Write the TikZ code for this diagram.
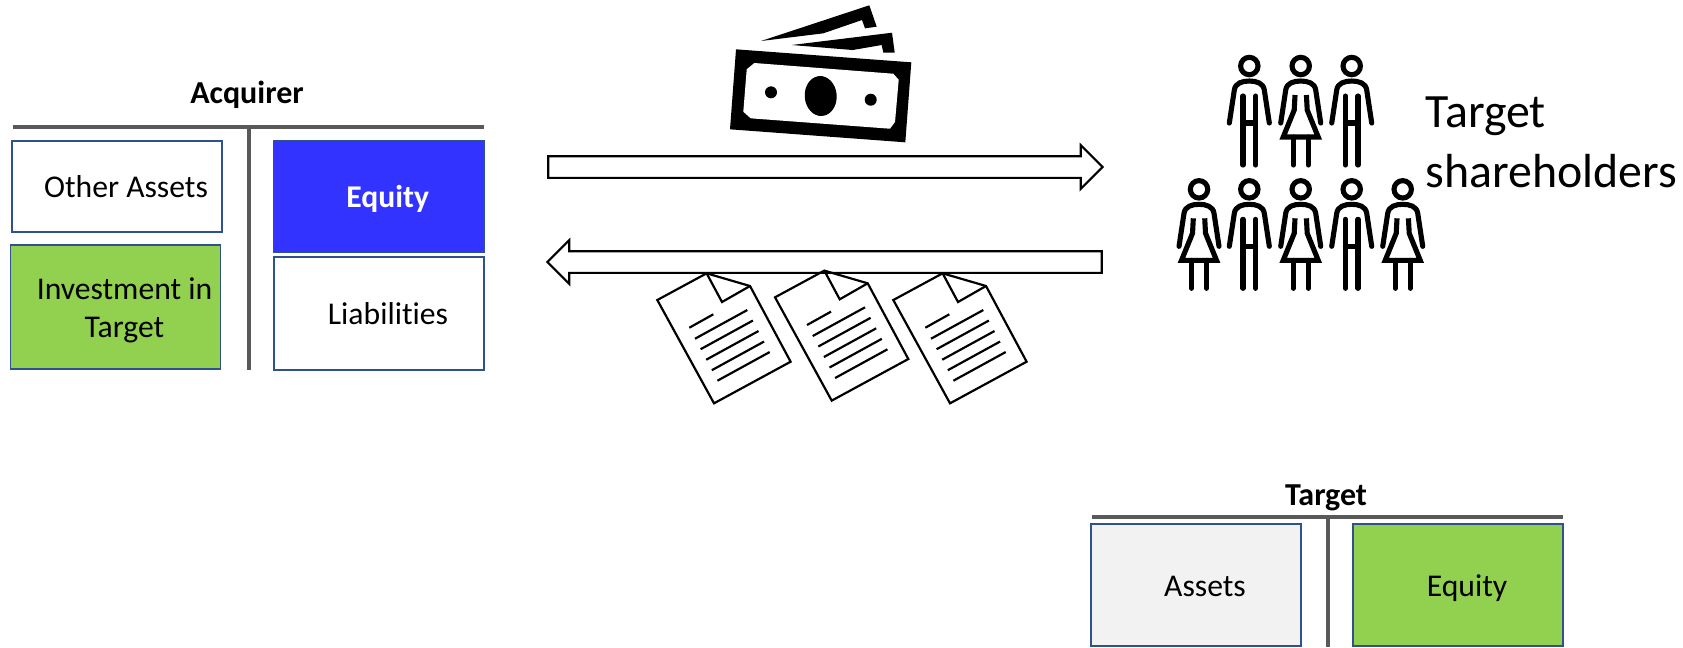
\documentclass[tikz,border=0pt]{standalone}
\usepackage{fontspec}
\setmainfont[Ligatures=NoCommon]{Carlito}
\usetikzlibrary{shapes.arrows}
\definecolor{acctgrey}{HTML}{595959}
\definecolor{boxedge}{HTML}{2F528F}
\definecolor{acctgreen}{HTML}{92D050}
\definecolor{acctblue}{HTML}{3333FF}
\definecolor{assetgrey}{HTML}{F2F2F2}
\newcommand{\boxtext}[1]{\hspace*{.18cm}\raisebox{-.038cm}[\height][\depth]{\begin{tabular}{@{}c@{}}#1\end{tabular}}}
\newcommand{\personhead}{%
  \draw[personline] (0,0) circle (8.7);
  \draw[personline] (-20,57) -- (-15,24) .. controls (-14,17) and (-7,15) .. (0,15)
    .. controls (7,15) and (14,17) .. (15,24) -- (20,57);}
\tikzset{
  acctline/.style={line width=1.15pt, acctgrey},
  acctbox/.style={draw=boxedge, line width=.35pt, inner sep=0pt, font=\fontsize{9}{10.8}\selectfont},
  acctlabel/.style={inner sep=0pt, font=\fontsize{9.1}{11}\selectfont\bfseries},
  flowarrow/.style={draw=black, line width=.62pt, fill=white, single arrow, inner xsep=0pt, inner ysep=.0975cm,
    minimum width=.42cm, minimum height=5.54cm, single arrow tip angle=90, single arrow head extend=.11cm},
  personline/.style={line width=1.45pt, black, line cap=round},
  docline/.style={line width=.62pt, black},
  pics/man/.style={code={
    \personhead
    \draw[personline] (-6.3,30) -- (-6.3,99);
    \draw[personline] (6.3,30) -- (6.3,99);
    \draw[personline] (-6.3,57) -- (6.3,57);
  }},
  pics/woman/.style={code={
    \personhead
    \draw[personline, line cap=butt] (-5.7,29) -- (-6.5,44) -- (-17.5,71) -- (17.5,71) -- (6.5,44) -- (5.7,29);
    \draw[personline] (-7.5,71) -- (-7.5,99);
    \draw[personline] (7.5,71) -- (7.5,99);
  }},
  pics/doc/.style={code={
    % Hoja con la esquina doblada
    \draw[docline, line join=miter] (0,0) -- (49.3,-26.7) -- (92.7,-14) -- (133.3,61.7) -- (56.7,103.3) -- cycle;
    \draw[docline] (49.3,-26.7) -- (64.7,2) -- (92.7,-14);
    \draw[docline] (32,27.7) -- (56,14.3);
    \foreach \i in {0,1,2,3,4}
      \draw[docline] (37.7+5.6*\i,38.7+10.5*\i) -- (90+5.6*\i,10+10.5*\i);
  }}
}
\begin{document}
\begin{tikzpicture}[x=0.01cm, y=-0.01cm]
  \useasboundingbox (0,0) rectangle (1683,647);

  % Balance del adquirente
  \node[acctlabel] (acquirer) at (247,95) {Acquirer};
  \draw[acctline] (13,126.7) -- (484,126.7);
  \draw[acctline] (249,126.7) -- (249,370);
  \node[acctbox, minimum width=2.1cm, minimum height=.91cm] (otherassets) at (117,186.5) {\boxtext{Other Assets}};
  \node[acctbox, fill=acctgreen, minimum width=2.1cm, minimum height=1.24cm] (investment) at (115.5,307) {\boxtext{Investment in\\Target}};
  \node[acctbox, fill=acctblue, text=white, minimum width=2.105cm, minimum height=1.115cm] (acqequity) at (378.75,196.5) {\boxtext{\bfseries Equity}};
  \node[acctbox, minimum width=2.1cm, minimum height=1.13cm] (liabilities) at (379,313.5) {\boxtext{Liabilities}};

  % Balance de la empresa objetivo
  \node[acctlabel] (target) at (1326,498) {Target};
  \draw[acctline] (1092,516.7) -- (1563,516.7);
  \draw[acctline] (1328,516.7) -- (1328,647);
  \node[acctbox, fill=assetgrey, minimum width=2.1cm, minimum height=1.22cm] (assets) at (1196,585) {\boxtext{Assets}};
  \node[acctbox, fill=acctgreen, minimum width=2.1cm, minimum height=1.22cm] (tgtequity) at (1458,585) {\boxtext{Equity}};

  % Flechas de intercambio
  \node[flowarrow] (cashflow) at (820,167) {};
  \node[flowarrow, shape border rotate=180] (shareflow) at (830,262) {};

  % Billetes
  \fill (761,41) -- (869.3,5.3) -- (876.7,26.7) -- (865,28.3) -- (862,20) -- (823.3,33.3) -- cycle;
  \fill (791.7,45) -- (892,32.7) -- (894.7,52.7) -- (883.3,52.7) -- (881.7,45) -- (852.7,50) -- cycle;
  \fill (736,49.3) -- (911.3,62.3) -- (905.3,142.3) -- (730,129.3) -- cycle;
  \fill[white] (754.3,63) -- (893.3,73.7) -- (898.7,79.7) -- (895,122) -- (890,128.7) -- (750.7,118.3) -- (743.3,111.7) -- (746.7,69.3) -- cycle;
  \fill (820.7,96) ellipse [x radius=16, y radius=20, rotate=4];
  \fill (771,92.3) circle (6);
  \fill (870.7,99.7) circle (6);

  % Accionistas
  \foreach \x/\kind in {1249.3/man, 1300.7/woman, 1351.7/man}
    \pic at (\x,66) {\kind};
  \foreach \x/\kind in {1199/woman, 1249.3/man, 1300.7/woman, 1351.7/man, 1402.7/woman}
    \pic at (\x,189.3) {\kind};
  \node[anchor=base west, inner sep=0pt, align=left, font=\fontsize{13.6}{16.8}\selectfont] (holders) at (1425,187) {Target\\shareholders};

  % Acciones entregadas
  \foreach \x/\y in {657.3/300, 775/297.3, 893.3/300}
    \pic at (\x,\y) {doc};
\end{tikzpicture}
\end{document}
